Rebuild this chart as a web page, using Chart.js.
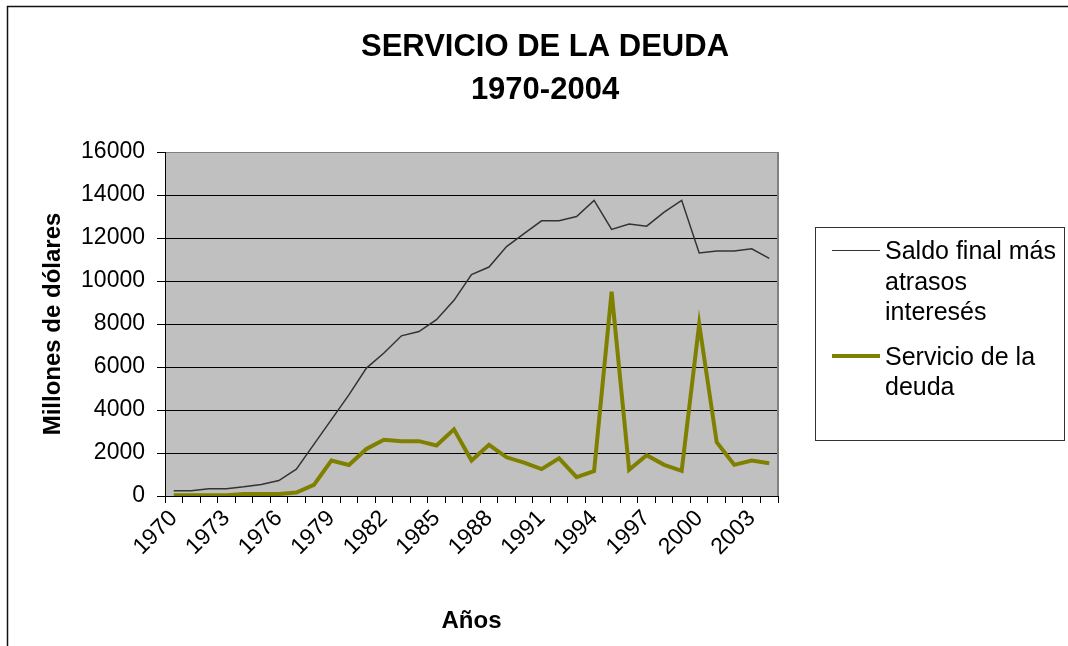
<!DOCTYPE html>
<html>
<head>
<meta charset="utf-8">
<title>Servicio de la deuda</title>
<script src="https://cdn.jsdelivr.net/npm/chart.js@4.4.1/dist/chart.umd.min.js"></script>
<style>
  body { margin: 0; background: #fff; }
  #wrap { position: relative; width: 1068px; height: 646px; overflow: hidden; }
  #legend {
    position: absolute; left: 815px; top: 227px; width: 250px; height: 214px;
    border: 1px solid #333; box-sizing: border-box; padding-top: 7px;
    font-family: "Liberation Sans", Arial, sans-serif; font-size: 25px; line-height: 30.5px; color: #000;
  }
  .item { display: flex; align-items: flex-start; padding-left: 16px; }
  .item + .item { margin-top: 14px; }
  .swatch { width: 48px; margin-right: 5px; flex: none; }
  .txt { width: 180px; }
</style>
</head>
<body>
<div id="wrap">
  <canvas id="myChart" width="1068" height="646"></canvas>
  <div id="legend"></div>
</div>
<script>
const titleLines = ["SERVICIO DE LA DEUDA", "1970-2004"];

const years = ["1970","1971","1972","1973","1974","1975","1976","1977","1978","1979",
  "1980","1981","1982","1983","1984","1985","1986","1987","1988","1989",
  "1990","1991","1992","1993","1994","1995","1996","1997","1998","1999",
  "2000","2001","2002","2003","2004"];

// Saldo final más atrasos interesés (millones de dólares)
const saldo = [250, 250, 340, 340, 430, 540, 720, 1250, 2400, 3550,
  4700, 5950, 6650, 7450, 7650, 8200, 9100, 10300, 10650, 11600,
  12200, 12800, 12800, 13000, 13750, 12400, 12650, 12550, 13200, 13750,
  11300, 11400, 11400, 11500, 11050];

// Servicio de la deuda
const servicio = [30, 30, 30, 40, 90, 90, 90, 160, 520, 1650,
  1440, 2190, 2620, 2550, 2550, 2350, 3100, 1650, 2380, 1800,
  1550, 1250, 1750, 880, 1160, 9500, 1220, 1900, 1450, 1170,
  8000, 2500, 1450, 1650, 1520];

const yTicks = [0, 2000, 4000, 6000, 8000, 10000, 12000, 14000, 16000];

const FONT = '"Liberation Sans", Arial, sans-serif';

const plotBg = {
  id: "plotBg",
  beforeDraw(chart) {
    const { ctx, chartArea: a } = chart;
    ctx.save();
    ctx.fillStyle = "#C0C0C0";
    ctx.fillRect(a.left, a.top, a.right - a.left, a.bottom - a.top);
    ctx.restore();
  },
  beforeDatasetsDraw(chart) {
    const { ctx, chartArea: a } = chart;
    ctx.save();
    ctx.strokeStyle = "#808080";
    ctx.lineWidth = 2;
    ctx.beginPath();
    ctx.moveTo(a.right, a.top);
    ctx.lineTo(a.right, a.bottom);
    ctx.stroke();
    ctx.restore();
  },
  afterDraw(chart) {
    const ctx = chart.ctx;
    ctx.save();
    // outer frame
    ctx.strokeStyle = "#111";
    ctx.lineWidth = 1.5;
    ctx.beginPath();
    ctx.moveTo(7.5, 646);
    ctx.lineTo(7.5, 6.5);
    ctx.lineTo(1068, 6.5);
    ctx.stroke();
    // title
    ctx.fillStyle = "#000";
    ctx.font = "bold 31px " + FONT;
    ctx.textAlign = "center";
    ctx.textBaseline = "middle";
    titleLines.forEach((t, i) => ctx.fillText(t, 545, 47 + i * 43));
    ctx.restore();
  }
};

const chart = new Chart(document.getElementById("myChart"), {
  type: "line",
  data: {
    labels: years,
    datasets: [
      {
        label: "Saldo final más atrasos interesés",
        data: saldo,
        borderColor: "#333333",
        backgroundColor: "#333333",
        borderWidth: 1.5,
        pointRadius: 0,
        tension: 0,
        fill: false,
      },
      {
        label: "Servicio de la deuda",
        data: servicio,
        borderColor: "#808000",
        backgroundColor: "#808000",
        borderWidth: 4,
        pointRadius: 0,
        tension: 0,
        fill: false,
      },
    ],
  },
  options: {
    responsive: false,
    animation: false,
    layout: { padding: { left: 37, right: 290, top: 152, bottom: 9 } },
    plugins: {
      legend: { display: false },
      title: { display: false },
      tooltip: { enabled: false },
    },
    scales: {
      x: {
        type: "category",
        offset: true,
        afterFit: (s) => { s.height = 141; },
        grid: { offset: true, drawOnChartArea: false, drawTicks: true, tickLength: 7, color: "#000", tickColor: "#000" },
        border: { color: "#000", width: 1 },
        ticks: {
          autoSkip: false,
          minRotation: 45,
          maxRotation: 45,
          padding: 2,
          color: "#000",
          font: { family: FONT, size: 23 },
          callback: (v, i) => (i % 3 === 0 ? years[i] : ""),
        },
        title: {
          display: true,
          text: "Años",
          color: "#000",
          padding: 1,
          font: { family: FONT, size: 24, weight: "bold" },
        },
      },
      y: {
        min: yTicks[0],
        max: yTicks[yTicks.length - 1],
        afterFit: (s) => { s.width = 128; },
        afterBuildTicks: (s) => { s.ticks = yTicks.map((v) => ({ value: v })); },
        grid: {
          color: (c) => (c.tick && c.tick.value === 16000 ? "#808080" : "#000"),
          tickColor: "#000",
          tickLength: 8,
          lineWidth: 1,
        },
        border: { color: "#000", width: 1 },
        ticks: {
          padding: 12,
          color: "#000",
          font: { family: FONT, size: 23 },
          callback: (v) => String(v),
        },
        title: {
          display: true,
          text: "Millones de dólares",
          color: "#000",
          padding: 2,
          font: { family: FONT, size: 24, weight: "bold" },
        },
      },
    },
  },
  plugins: [plotBg],
});

// HTML legend built from the chart's own legend items (allows wrapping)
const items = Chart.defaults.plugins.legend.labels.generateLabels(chart);
const legendEl = document.getElementById("legend");
items.forEach((it) => {
  const row = document.createElement("div");
  row.className = "item";
  const sw = document.createElement("span");
  sw.className = "swatch";
  const lw = it.lineWidth;
  sw.style.height = lw + "px";
  sw.style.background = it.strokeStyle;
  sw.style.marginTop = (15.25 - lw / 2) + "px";
  const tx = document.createElement("span");
  tx.className = "txt";
  tx.textContent = it.text;
  row.appendChild(sw);
  row.appendChild(tx);
  legendEl.appendChild(row);
});
</script>
</body>
</html>
